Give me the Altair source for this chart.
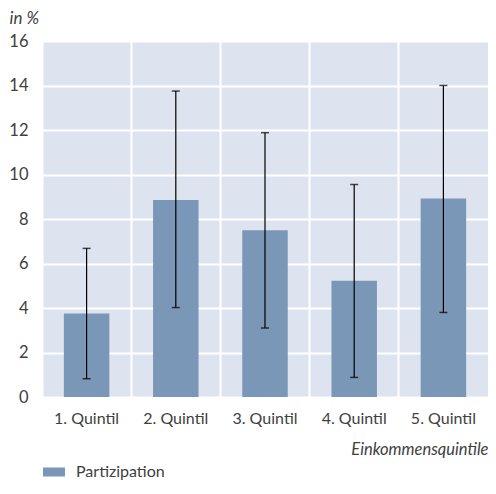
import altair as alt
import pandas as pd

categories = ["1. Quintil", "2. Quintil", "3. Quintil", "4. Quintil", "5. Quintil"]
values = [3.75, 8.85, 7.5, 5.22, 8.92]
lower = [0.82, 4.02, 3.1, 0.88, 3.8]
upper = [6.68, 13.75, 11.88, 9.55, 14.0]
series = ["Partizipation"] * 5

df = pd.DataFrame({"cat": categories, "val": values, "lo": lower, "hi": upper, "series": series})

FONT = "Lato"
TXT = "#404040"
W, H = 446, 356

x = alt.X("cat:N", sort=categories,
          scale=alt.Scale(paddingInner=0, paddingOuter=0),
          axis=alt.Axis(title="Einkommensquintile", titleFontStyle="italic", titleFontWeight="normal",
                        titleFontSize=16.5, titleColor=TXT, titleAlign="right", titleAnchor="end",
                        titleX=W, titleY=52, titleBaseline="middle",
                        labelAngle=0, labelFontSize=16, labelColor=TXT, labelPadding=13,
                        ticks=False, domain=False, grid=True, bandPosition=0,
                        gridColor="white", gridWidth=2))

y = alt.Y("val:Q", scale=alt.Scale(domain=[0, 16], nice=False),
          axis=alt.Axis(title="in %", titleFontStyle="italic", titleFontWeight="normal",
                        titleFontSize=17, titleColor=TXT, titleAngle=0, titleAlign="left",
                        titleX=-33, titleY=-23, titleBaseline="middle",
                        values=[0, 2, 4, 6, 8, 10, 12, 14, 16], labelFontSize=16.5, labelColor=TXT,
                        labelPadding=14, ticks=False, domain=False, grid=True,
                        gridColor="white", gridWidth=2))

bars = alt.Chart(df).mark_bar(width=alt.RelativeBandSize(0.51), color="#7b97b8").encode(
    x=x, y=y,
    fill=alt.Fill("series:N", scale=alt.Scale(range=["#7b97b8"]),
                  legend=alt.Legend(title=None, orient="none", legendX=1, legendY=420,
                                    symbolType="M-1,-0.41H1V0.41H-1Z", symbolSize=484,
                                    symbolStrokeWidth=0, labelFontSize=16, labelColor=TXT,
                                    labelOffset=11))
)

rules = alt.Chart(df).mark_rule(color="black", strokeWidth=1.2).encode(
    x=alt.X("cat:N", sort=categories), y="lo:Q", y2="hi:Q")
lo_ticks = alt.Chart(df).mark_tick(color="black", size=8, thickness=1.5).encode(
    x=alt.X("cat:N", sort=categories), y="lo:Q")
hi_ticks = alt.Chart(df).mark_tick(color="black", size=8, thickness=1.5).encode(
    x=alt.X("cat:N", sort=categories), y="hi:Q")

chart = alt.layer(bars, rules, lo_ticks, hi_ticks).properties(
    width=W, height=H,
    autosize=alt.AutoSizeParams(type="none"),
    padding={"left": 34, "top": 33, "right": 0, "bottom": 89},
).configure(font=FONT).configure_view(fill="#dde3ef", stroke=None)

chart.save("out.html", embed_options={"renderer": "svg", "actions": False})
